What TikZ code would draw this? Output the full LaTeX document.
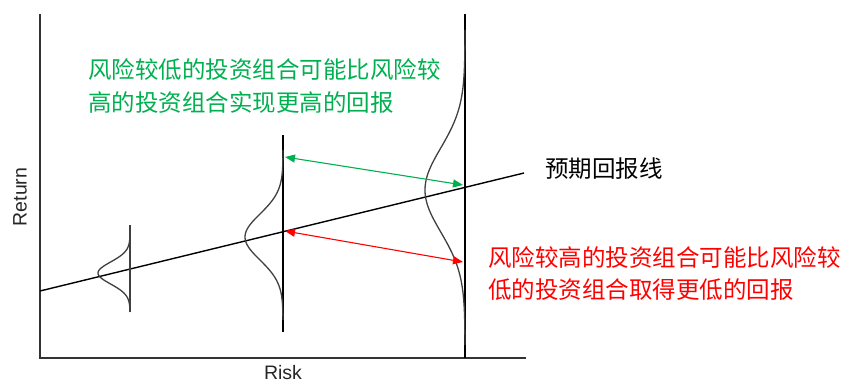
\documentclass[tikz,border=0pt]{standalone}
\usepackage{fontspec}
\setmainfont{Liberation Sans}
\newfontfamily\cjk{Noto Sans CJK SC}
\usetikzlibrary{arrows.meta}
\definecolor{mygreen}{RGB}{0,176,80}
\definecolor{myred}{RGB}{255,0,0}
\begin{document}
\begin{tikzpicture}[x=1pt,y=-1pt,
  axisline/.style={line width=1.4pt,black!80},
  stem/.style={line width=1.8pt,black},
  bell/.style={line width=1.3pt,black!75,smooth},
  regline/.style={line width=1.4pt,black},
  gap/.style={line width=1.1pt,{Triangle[length=10pt,width=8pt]}-{Triangle[length=10pt,width=8pt]}},
  cjktext/.style={font=\cjk\fontsize{23.5}{32}\selectfont,inner sep=0pt,anchor=base west},
  axlabel/.style={font=\fontsize{19.5}{21}\selectfont,black!85,inner sep=0pt}]
\useasboundingbox (0,0) rectangle (848,385);
% axes
\draw[axisline] (40,14) coordinate (ytop) -- (40,358) coordinate (origin) -- (526,358) coordinate (xend);
\node[axlabel,rotate=90] (ret) at (20,197) {Return};
\node[axlabel] (risk) at (283,373) {Risk};
% regression line
\draw[regline] (40,291) coordinate (rl0) -- (524,173) coordinate (rl1);
% small distribution
\draw[stem,black!75] (130,225) coordinate (s0) -- (130,312) coordinate (s1);
\draw[bell] plot[domain=225:312,samples=80] ({130-32*exp(-((\x-273)/11)^2/2)},\x);
% middle distribution
\draw[stem] (283,135) coordinate (m0) -- (283,332) coordinate (m1);
\draw[bell] plot[domain=150:320,samples=100] ({283-38*exp(-((\x-237)/23)^2/2)},\x);
% right distribution
\draw[stem,line width=1.6pt] (465,14) coordinate (r0) -- (465,358) coordinate (r1);
\draw[bell] plot[domain=30:345,samples=140] ({465-40*exp(-((\x-190)/42)^2/2)},\x);
% arrows
\coordinate (ga) at (285,157);
\coordinate (gb) at (463,185);
\coordinate (ra) at (285,231);
\coordinate (rb) at (463,262);
\draw[gap,mygreen] (ga) -- (gb);
\draw[gap,myred] (ra) -- (rb);
% texts
\node[cjktext,mygreen] (g1) at (88,79) {风险较低的投资组合可能比风险较};
\node[cjktext,mygreen] (g2) at (88,112) {高的投资组合实现更高的回报};
\node[cjktext,myred] (r1t) at (488,266) {风险较高的投资组合可能比风险较};
\node[cjktext,myred] (r2t) at (488,298) {低的投资组合取得更低的回报};
\node[cjktext,black] (lab) at (545,177) {预期回报线};
\end{tikzpicture}
\end{document}
